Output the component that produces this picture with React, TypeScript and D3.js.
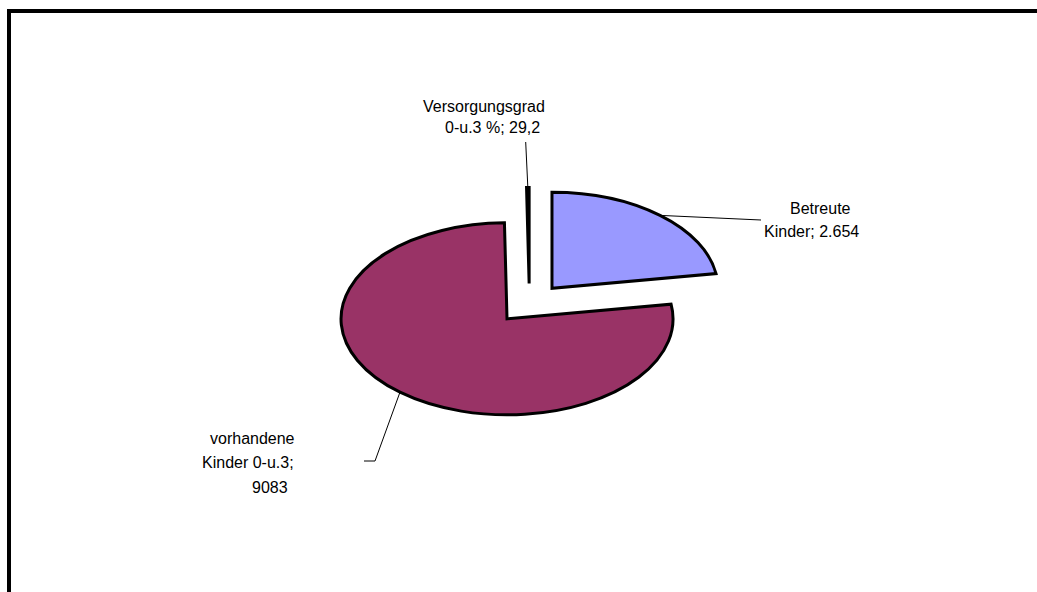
import * as d3 from 'd3'

// slice order follows the source sheet (clockwise from 12 o'clock)
const categories = ['Betreute Kinder', 'vorhandene Kinder 0-u.3', 'Versorgungsgrad 0-u.3 %']
const values = [2654, 9083, 29.2]
const labelLines = [
  ['Betreute', 'Kinder; 2.654'],
  ['vorhandene', 'Kinder 0-u.3;', '9083'],
  ['Versorgungsgrad', '0-u.3 %; 29,2'],
]
const colors = ['#9999FF', '#993366', '#FFFFCC']

// layout of labels (page px): line start x / baseline y, leader path after the rim point
const labelLayout = [
  { lines: [[790, 213.5], [764, 237]], leader: [[761, 220]] },
  { lines: [[210, 444], [202, 467.5], [252, 492.5]], leader: [[375, 461], [364, 461]] },
  { lines: [[423, 112.3], [445, 133.3]], leader: [[525.7, 142]] },
]

const W = 1037
const H = 592
const CX = 529.4
const CY = 303.5
const RX = 166
const RY = 96
const EXPLODE = 34.7
const FONT = '"Liberation Sans", Arial, sans-serif'

export default function App() {
  const k = RY / RX
  const pie = d3.pie<number>().sort(null).value(d => d)
  const arcs = pie(values)
  const arcGen = d3.arc<d3.PieArcDatum<number>>().innerRadius(0).outerRadius(RX)

  const mid = (a: d3.PieArcDatum<number>) => (a.startAngle + a.endAngle) / 2
  const rimPoint = (a: d3.PieArcDatum<number>) => {
    const m = mid(a)
    return [CX + (EXPLODE + RX) * Math.sin(m), CY - (EXPLODE + RX) * Math.cos(m) * k]
  }

  return (
    <div style={{ position: 'fixed', left: 0, top: 0, width: W, height: H, background: '#fff' }}>
      <svg width={W} height={H} style={{ display: 'block' }}>
        <rect x={9} y={11} width={1100} height={700} fill="#fff" stroke="#000" strokeWidth={4} />

        <g transform={`translate(${CX},${CY}) scale(1,${k})`}>
          {arcs.map((a, i) => {
            const m = mid(a)
            return (
              <path
                key={categories[i]}
                d={arcGen(a) || ''}
                transform={`translate(${EXPLODE * Math.sin(m)},${-EXPLODE * Math.cos(m)})`}
                fill={colors[i]}
                stroke="#000"
                strokeWidth={3}
                strokeLinejoin="miter"
                vectorEffect="non-scaling-stroke"
              />
            )
          })}
        </g>

        {arcs.map((a, i) => {
          const pts = [rimPoint(a), ...labelLayout[i].leader]
          return (
            <path
              key={'l' + i}
              d={d3.line()(pts as [number, number][]) || ''}
              fill="none"
              stroke="#000"
              strokeWidth={1}
            />
          )
        })}

        {labelLines.map((lines, i) => (
          <g key={'t' + i} fontFamily={FONT} fontSize={16} fill="#000">
            {lines.map((t, j) => (
              <text key={j} x={labelLayout[i].lines[j][0]} y={labelLayout[i].lines[j][1]}>
                {t}
              </text>
            ))}
          </g>
        ))}
      </svg>
    </div>
  )
}
